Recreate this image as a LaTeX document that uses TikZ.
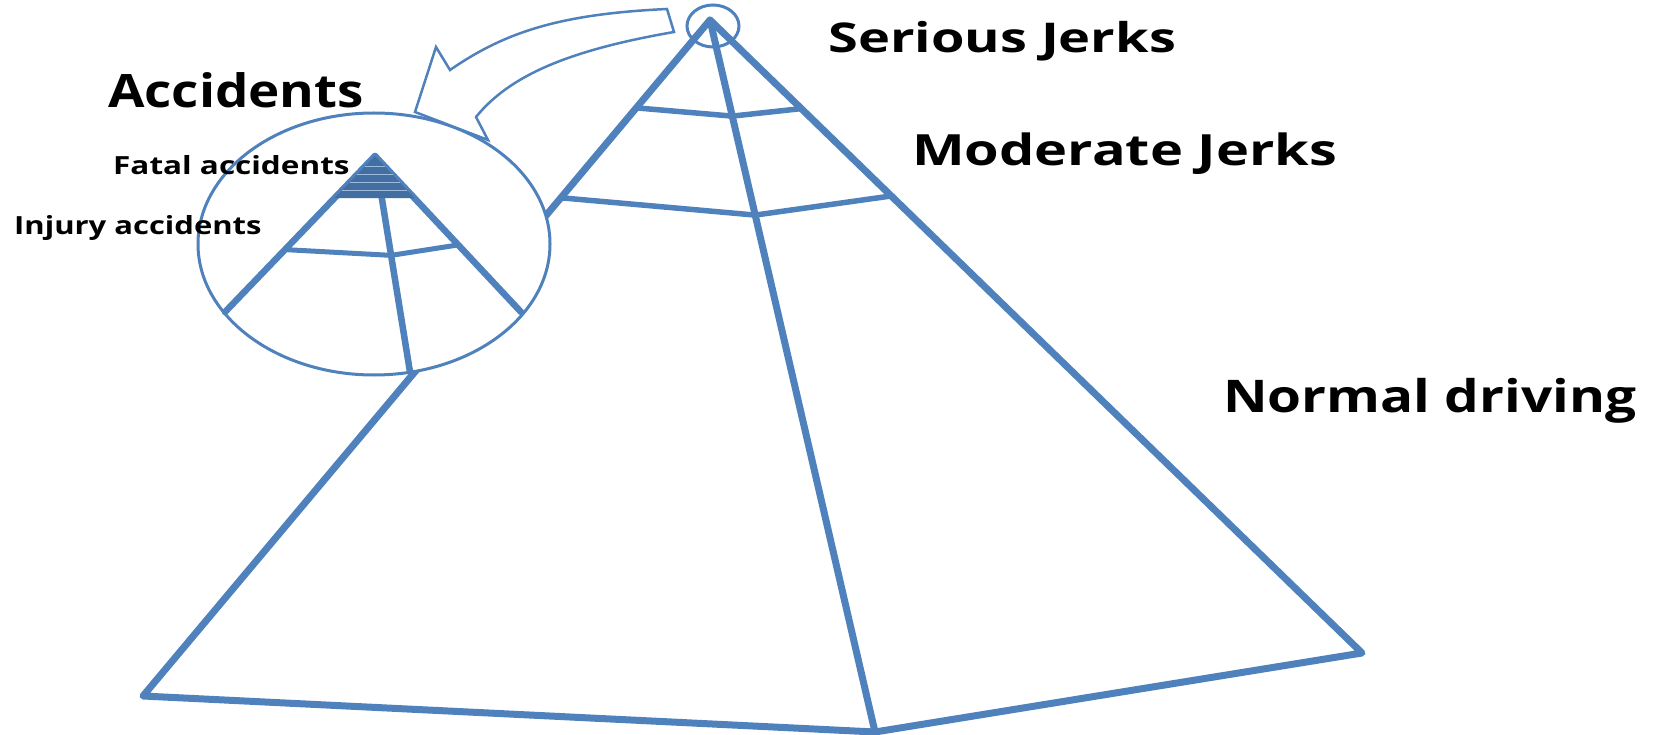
\documentclass[tikz,border=0pt]{standalone}
\usepackage{fontspec}
\setmainfont{Open Sans}
\usetikzlibrary{calc}
\definecolor{pyblue}{RGB}{79,129,189}
\newcommand{\widetext}[2]{\scalebox{#1}[1]{#2}}

\begin{document}
\begin{tikzpicture}[
    x=1pt, y=-1pt,
    edge/.style={draw=pyblue, line width=7pt, line cap=round, line join=round},
    level/.style={draw=pyblue, line width=5.5pt, line cap=round, line join=round},
    ring/.style={draw=pyblue, line width=3pt},
    lbl/.style={inner sep=0pt, anchor=base west},
]
\useasboundingbox (0,0) rectangle (1657,735);

% main pyramid
\coordinate (apex) at (710,20);
\coordinate (bl) at (143,696);
\coordinate (bm) at (875,732);
\coordinate (br) at (1362,653);
\draw[edge] (bl) -- (apex) -- (br) -- (bm) -- cycle;
\draw[edge] (apex) -- (bm);
\draw[level] ($(apex)!0.13!(bl)$) -- ($(apex)!0.135!(bm)$) -- ($(apex)!0.14!(br)$);
\draw[level] ($(apex)!0.263!(bl)$) -- ($(apex)!0.274!(bm)$) -- ($(apex)!0.278!(br)$);
\draw[ring] (713,26) ellipse [x radius=26, y radius=21];

% zoomed tip
\draw[ring, fill=white] (374,244) ellipse [x radius=176, y radius=131];
\coordinate (mapex) at (375,156);
\coordinate (mleft) at (225,312);
\coordinate (mright) at (521,312);
\coordinate (mfront) at (410,372);
\draw[edge, line width=6.5pt] (mleft) -- (mapex) -- (mright);
\draw[edge, line width=6.5pt] (mapex) -- (mfront);
\draw[level, line width=5pt] ($(mapex)!0.6!(mleft)$) -- ($(mapex)!0.46!(mfront)$) -- ($(mapex)!0.57!(mright)$);
\fill[pyblue!85!black] (mapex) -- ($(mapex)!0.27!(mleft)$) -- ($(mapex)!0.27!(mright)$) -- cycle;
\foreach \f in {0.07,0.12,0.17,0.22}
  \draw[pyblue!55!white, line width=1pt] ($(mapex)!\f!(mleft)$) -- ($(mapex)!\f!(mright)$);

% labels
\node[lbl, font=\fontsize{41}{41}\selectfont\bfseries] (serious) at (828,53) {\widetext{1.32}{Serious Jerks}};
\node[lbl, font=\fontsize{43}{43}\selectfont\bfseries] (moderate) at (912,166) {\widetext{1.3}{Moderate Jerks}};
\node[lbl, font=\fontsize{45}{45}\selectfont\bfseries] (normal) at (1223,412) {\widetext{1.22}{Normal driving}};
\node[lbl, font=\fontsize{46}{46}\selectfont\bfseries] (accidents) at (108,108) {\widetext{1.15}{Accidents}};
\node[lbl, font=\fontsize{25}{25}\selectfont\bfseries] (fatal) at (113,175) {\widetext{1.26}{Fatal accidents}};
\node[lbl, font=\fontsize{25}{25}\selectfont\bfseries] (injury) at (14,235) {\widetext{1.24}{Injury accidents}};

% curved arrow from the tip to the zoom
\draw[ring, fill=white, line width=2.5pt, line join=miter]
  (667,9) .. controls (560,14) and (505,32) .. (450,70)
  -- (436,47) -- (415,112) -- (488,140) -- (476,117)
  .. controls (510,75) and (570,50) .. (674,32) -- cycle;
\end{tikzpicture}
\end{document}
